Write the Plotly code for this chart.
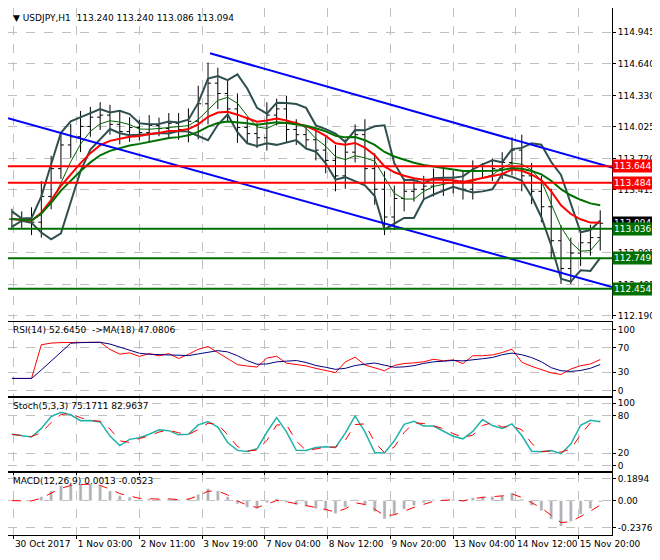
import plotly.graph_objects as go
import pandas as pd
import numpy as np

# closes every 5 H1 bars
bar_idx = list(range(0, 305, 5))
closes = [113.13, 113.12, 113.10, 113.35, 113.62, 113.85, 113.93, 114.03, 114.12, 114.14,
          114.05, 113.98, 114.02, 113.97, 114.04, 114.01, 114.06, 114.00, 114.08, 114.25,
          114.45, 114.35, 114.20, 114.02, 113.96, 113.92, 114.14, 114.20, 114.00, 113.95,
          113.90, 113.80, 113.70, 113.55, 113.78, 113.95, 113.62, 113.42, 113.15, 113.33,
          113.40, 113.42, 113.45, 113.52, 113.48, 113.50, 113.42, 113.60, 113.60, 113.62,
          113.68, 113.80, 113.55, 113.40, 113.25, 112.92, 112.65, 112.80, 112.90, 112.95,
          113.09]
ranges = [0.20, 0.15, 0.25, 0.30, 0.25, 0.20, 0.25, 0.30, 0.20, 0.25,
          0.20, 0.25, 0.20, 0.15, 0.20, 0.15, 0.20, 0.20, 0.25, 0.35,
          0.40, 0.30, 0.25, 0.30, 0.20, 0.20, 0.25, 0.20, 0.25, 0.20,
          0.15, 0.20, 0.25, 0.30, 0.25, 0.20, 0.30, 0.30, 0.35, 0.25,
          0.25, 0.20, 0.20, 0.20, 0.25, 0.20, 0.20, 0.20, 0.15, 0.20,
          0.20, 0.25, 0.30, 0.25, 0.30, 0.35, 0.30, 0.30, 0.25, 0.25,
          0.25]

tick_bars = [1, 33, 65, 97, 129, 161, 193, 225, 257, 289]
tick_text = ['30 Oct 2017', '1 Nov 03:00', '2 Nov 11:00', '3 Nov 19:00', '7 Nov 04:00',
             '8 Nov 12:00', '9 Nov 20:00', '13 Nov 04:00', '14 Nov 12:00', '15 Nov 20:00']
price_ticks = [112.190, 112.495, 112.805, 113.415, 113.720, 114.025, 114.330, 114.640, 114.945]

red_levels = [113.644, 113.484]
green_levels = [113.036, 112.749, 112.454]
last_price = 113.094

# channel endpoints (bar, price)
upper_ch_x = [101, 306]
upper_ch_y = [114.74, 113.63]
lower_ch_x = [-2, 306]
lower_ch_y = [114.11, 112.47]

c = pd.Series(closes)
opens = c.shift(1).fillna(c.iloc[0])
r = pd.Series(ranges)
highs = np.maximum(opens, c) + r / 2
lows = np.minimum(opens, c) - r / 2

mid = c.rolling(4, min_periods=1).mean()
sd = c.rolling(4, min_periods=1).std().fillna(0.05)
bb_up, bb_lo = mid + 1.5 * sd, mid - 1.5 * sd
ma_red = c.ewm(span=10).mean()
ma_green = c.ewm(span=20).mean()

d = c.diff().fillna(0)
up = d.clip(lower=0).ewm(alpha=1 / 5).mean()
dn = (-d.clip(upper=0)).ewm(alpha=1 / 5).mean()
rsi = 100 - 100 / (1 + up / dn.replace(0, 1e-6))
rsi = 50 + (rsi - 50) * 0.6
rsi_ma = rsi.rolling(4, min_periods=1).mean()

hh = highs.rolling(2, min_periods=1).max()
ll = lows.rolling(2, min_periods=1).min()
k = 100 * (c - ll) / (hh - ll)
k_s = k.rolling(2, min_periods=1).mean()
d_s = k_s.rolling(2, min_periods=1).mean()

macd = c.ewm(span=3).mean() - c.ewm(span=6).mean()
signal = macd.ewm(span=2).mean()

fig = go.Figure()
fig.add_trace(go.Ohlc(x=bar_idx, open=opens, high=highs, low=lows, close=c,
                      increasing_line_color='black', decreasing_line_color='black',
                      line_width=1, xaxis='x', yaxis='y'))
for s, col, w in [(bb_up, '#2f4f4f', 2), (bb_lo, '#2f4f4f', 2), (mid, '#006400', 1),
                  (ma_red, '#ff0000', 2), (ma_green, '#007000', 2)]:
    fig.add_trace(go.Scatter(x=bar_idx, y=s, mode='lines', line=dict(color=col, width=w),
                             xaxis='x', yaxis='y'))
fig.add_trace(go.Scatter(x=upper_ch_x, y=upper_ch_y, mode='lines',
                         line=dict(color='#0000ff', width=2), xaxis='x', yaxis='y'))
fig.add_trace(go.Scatter(x=lower_ch_x, y=lower_ch_y, mode='lines',
                         line=dict(color='#0000ff', width=2), xaxis='x', yaxis='y'))

fig.add_trace(go.Scatter(x=bar_idx, y=rsi, mode='lines', line=dict(color='red', width=1),
                         xaxis='x2', yaxis='y2'))
fig.add_trace(go.Scatter(x=bar_idx, y=rsi_ma, mode='lines', line=dict(color='#000080', width=1),
                         xaxis='x2', yaxis='y2'))
fig.add_trace(go.Scatter(x=bar_idx, y=k_s, mode='lines', line=dict(color='#20b2aa', width=1.5),
                         xaxis='x3', yaxis='y3'))
fig.add_trace(go.Scatter(x=bar_idx, y=d_s, mode='lines', line=dict(color='red', width=1, dash='dash'),
                         xaxis='x3', yaxis='y3'))
fig.add_trace(go.Bar(x=bar_idx, y=macd, marker_color='#b0b0b0', width=1.5, xaxis='x', yaxis='y4'))
fig.add_trace(go.Scatter(x=bar_idx, y=signal, mode='lines', line=dict(color='red', width=1, dash='dash'),
                         xaxis='x', yaxis='y4'))

grid = dict(showgrid=True, gridcolor='#c0c0c0', griddash='dash', gridwidth=1,
            showline=True, linecolor='black', linewidth=1, mirror=True, zeroline=False,
            ticks='outside', ticklen=3, tickcolor='black', automargin=False)
fig.update_layout(
    width=652, height=548, showlegend=False, plot_bgcolor='white', paper_bgcolor='white',
    margin=dict(l=0, r=48, t=0, b=20),
    font=dict(family='DejaVu Sans', size=9, color='black'),
    xaxis=dict(range=[-2, 306], tickvals=tick_bars, ticktext=tick_text, anchor='y4', tickangle=0,
               ticklabelposition='outside right', rangeslider=dict(visible=False), **grid),
    xaxis2=dict(matches='x', anchor='y2', showticklabels=False, tickvals=tick_bars, **grid),
    xaxis3=dict(matches='x', anchor='y3', showticklabels=False, tickvals=tick_bars, **grid),
    yaxis=dict(domain=[0.411, 1], side='right', range=[112.16, 115.18], tickvals=price_ticks,
               tickformat='.3f', **grid),
    yaxis2=dict(domain=[0.266, 0.405], side='right', range=[-8, 112], tickvals=[0, 30, 70, 100], **grid),
    yaxis3=dict(domain=[0.124, 0.261], side='right', range=[-8, 108], tickvals=[0, 20, 80, 100], **grid),
    yaxis4=dict(domain=[0.002, 0.119], side='right', range=[-0.30, 0.24],
                tickvals=[-0.2376, 0, 0.1894], ticktext=['-0.2376', '0.00', '0.1894'], **grid),
)

for lv in red_levels:
    fig.add_hline(y=lv, line=dict(color='#ff0000', width=2), yref='y')
for lv in green_levels:
    fig.add_hline(y=lv, line=dict(color='#007000', width=2), yref='y')

def label(y, txt, bg):
    fig.add_annotation(xref='paper', x=1.0, y=y, yref='y', text=txt, showarrow=False,
                       xanchor='left', bgcolor=bg, font=dict(color='white', size=9),
                       borderpad=1)

label(last_price, '%.3f' % last_price, 'black')
for lv in red_levels:
    label(lv, '%.3f' % lv, '#ff0000')
for lv in green_levels:
    label(lv, '%.3f' % lv, '#007000')

titles = [('y domain', '▼ USDJPY,H1  113.240 113.240 113.086 113.094'),
          ('y2 domain', 'RSI(14) 52.6450  ->MA(18) 47.0806'),
          ('y3 domain', 'Stoch(5,3,3) 75.1711 82.9637'),
          ('y4 domain', 'MACD(12,26,9) 0.0013 -0.0523')]
for yr, t in titles:
    fig.add_annotation(xref='x domain', yref=yr, x=0.005, y=0.99, text=t, showarrow=False,
                       xanchor='left', yanchor='top', font=dict(size=9))

fig.write_html("out.html")
